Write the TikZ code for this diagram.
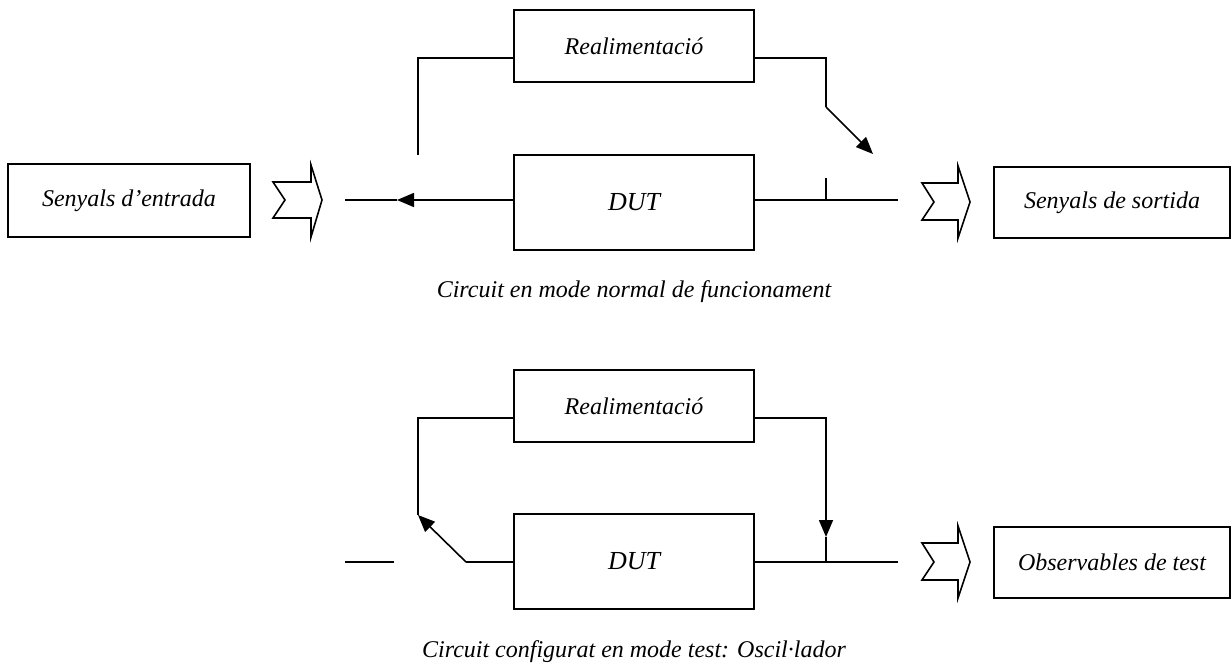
\documentclass[tikz,border=0pt]{standalone}
\usepackage{fontspec}
\setmainfont{Liberation Serif}
\usetikzlibrary{arrows.meta}
\begin{document}
\begin{tikzpicture}[x=1pt,y=-1pt,
  line width=1.6pt,
  box/.style={draw, rectangle, inner sep=0pt, font=\fontsize{24}{28}\selectfont\itshape},
  dutbox/.style={box, font=\fontsize{26}{30}\selectfont\itshape},
  lbl/.style={inner sep=0pt, font=\fontsize{24}{28}\selectfont\itshape},
  tip/.style={-{Triangle[length=17pt,width=14pt]}},
  chev/.style={draw, line width=1.6pt, line join=miter}
]
\useasboundingbox (0,0) rectangle (1231,664);

% ---------- top: normal mode ----------
\node[box, minimum width=242pt, minimum height=73pt] (in) at (129,200.5) {Senyals d’entrada};
\node[box, minimum width=240pt, minimum height=72pt] (real1) at (634,46) {Realimentació};
\node[dutbox, minimum width=240pt, minimum height=95pt] (dut1) at (634,202.5) {DUT};
\node[box, minimum width=236pt, minimum height=71pt] (out1) at (1112,202.5) {Senyals de sortida};

\coordinate (inend) at (345,200);
\coordinate (intip) at (397,200);
\coordinate (fbL1) at (418,155);
\coordinate (fbR1) at (826,107);
\coordinate (sw1) at (873,154);
\coordinate (stub1) at (826,178);
\coordinate (jn1) at (826,200);
\coordinate (outend1) at (898,200);

\draw[tip] (dut1.west |- intip) -- (intip);
\draw (intip) -- (inend);
\draw ([yshift=-12pt]real1.west) -| (fbL1);
\draw ([yshift=-12pt]real1.east) -| (fbR1);
\draw[tip] (fbR1) -- (sw1);
\draw (dut1.east |- jn1) -- (outend1);
\draw (stub1) -- (jn1);

\draw[chev] (273,182) -- (311,182) -- (311,165) -- (322,200) -- (311,237) -- (311,218) -- (273,218) -- (285,200) -- cycle;
\draw[chev] (922,183) -- (958,183) -- (958,166) -- (970,202) -- (958,238) -- (958,220) -- (922,220) -- (934,202) -- cycle;

\node[lbl] (cap1) at (634,292) {Circuit en mode normal de funcionament};

% ---------- bottom: test mode ----------
\node[box, minimum width=240pt, minimum height=72pt] (real2) at (634,406) {Realimentació};
\node[dutbox, minimum width=240pt, minimum height=95pt] (dut2) at (634,561.5) {DUT};
\node[box, minimum width=236pt, minimum height=71pt] (out2) at (1112,562.5) {Observables de test};

\coordinate (lstubA) at (345,562);
\coordinate (lstubB) at (394,562);
\coordinate (sw2) at (466,562);
\coordinate (sw2tip) at (418,515);
\coordinate (dntip) at (826,537);
\coordinate (jn2) at (826,562);
\coordinate (outend2) at (898,562);

\draw (lstubA) -- (lstubB);
\draw (dut2.west |- sw2) -- (sw2);
\draw[tip] (sw2) -- (sw2tip);
\draw ([yshift=-12pt]real2.west) -| (sw2tip);
\draw[tip] ([yshift=-12pt]real2.east) -| (dntip);
\draw (dntip) -- (jn2);
\draw (dut2.east |- jn2) -- (outend2);

\draw[chev] (922,543) -- (958,543) -- (958,526) -- (970,562) -- (958,598) -- (958,580) -- (922,580) -- (934,562) -- cycle;

\node[lbl] (cap2) at (634,652) {Circuit configurat en mode test: Oscil·lador};
\end{tikzpicture}
\end{document}
